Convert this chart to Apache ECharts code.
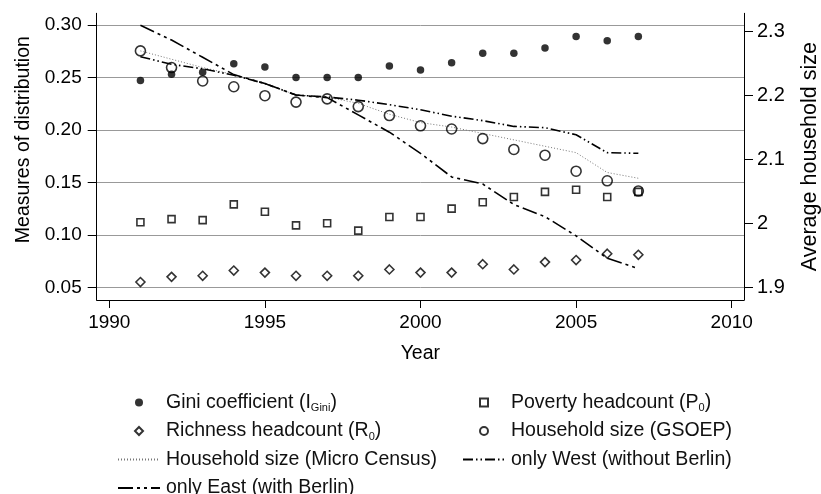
<!DOCTYPE html>
<html>
<head>
<meta charset="utf-8">
<script src="https://cdn.jsdelivr.net/npm/echarts@6/dist/echarts.min.js"></script>
<style>
  html, body { margin: 0; padding: 0; background: #fff; }
  #chart { width: 821px; height: 494px; }
</style>
</head>
<body>
<div id="chart"></div>
<script>
// Survey years
var years = [1991, 1992, 1993, 1994, 1995, 1996, 1997, 1998, 1999, 2000,
             2001, 2002, 2003, 2004, 2005, 2006, 2007];

// Measures of distribution (left axis)
var gini = [0.247, 0.253, 0.255, 0.263, 0.260, 0.250, 0.250, 0.250, 0.261, 0.257,
            0.264, 0.273, 0.273, 0.278, 0.289, 0.285, 0.289];
var poverty = [0.112, 0.115, 0.114, 0.129, 0.122, 0.109, 0.111, 0.104, 0.117, 0.117,
               0.125, 0.131, 0.136, 0.141, 0.143, 0.136, 0.141];
var richness = [0.055, 0.060, 0.061, 0.066, 0.064, 0.061, 0.061, 0.061, 0.067, 0.064,
                0.064, 0.072, 0.067, 0.074, 0.076, 0.082, 0.081];

// Average household size (right axis)
var hhGsoep = [2.270, 2.244, 2.223, 2.214, 2.200, 2.190, 2.195, 2.183, 2.169, 2.153,
               2.148, 2.133, 2.116, 2.107, 2.082, 2.067, 2.051];
var hhMicroCensus = [2.270, 2.257, 2.244, 2.233, 2.219, 2.201, 2.198, 2.188, 2.171, 2.158,
                     2.151, 2.141, 2.131, 2.121, 2.111, 2.080, 2.071];
var hhWest = [2.261, 2.249, 2.242, 2.232, 2.219, 2.201, 2.198, 2.193, 2.186, 2.178,
              2.168, 2.161, 2.152, 2.150, 2.139, 2.111, 2.110];
var hhEast = [2.310, 2.287, 2.260, 2.233, 2.219, 2.201, 2.197, 2.170, 2.143, 2.110,
              2.073, 2.062, 2.030, 2.011, 1.981, 1.946, 1.930];

// Tick values
var xTicks = [1990, 1995, 2000, 2005, 2010];
var leftTicks = [0.05, 0.10, 0.15, 0.20, 0.25, 0.30];
var rightTicks = [1.9, 2.0, 2.1, 2.2, 2.3];

function pairs(vals) {
  return years.map(function (y, i) { return [y, vals[i]]; });
}

var FONT = '"Liberation Sans", Arial, sans-serif';

var chart = echarts.init(document.getElementById('chart'), null, { renderer: 'canvas' });

var hollow = { color: 'rgba(0,0,0,0)', borderColor: '#000', borderWidth: 1.6 };
// line series carry no markers; keep their legend dot invisible
var noDot = { color: 'rgba(0,0,0,0)', borderColor: 'rgba(0,0,0,0)', borderWidth: 0 };

// square / diamond legend keys as paths so they keep their aspect ratio
var SQUARE_ICON = 'path://M0,0 L10,0 L10,10 L0,10 Z';
var DIAMOND_ICON = 'path://M5,0 L10,5 L5,10 L0,5 Z';

var legendText = {
  fontFamily: FONT, fontSize: 19.5, color: '#111', lineHeight: 22,
  padding: [0, 0, 0, 1],
  rich: {
    s: { fontFamily: FONT, fontSize: 11, color: '#111', lineHeight: 12, verticalAlign: 'bottom' }
  }
};
function legendFormatter(name) {
  return name.replace(/_(\w+)\)/, '{s|$1})');
}

var legendCommon = {
  orient: 'vertical', top: 386.5, height: 130, itemWidth: 42, itemHeight: 8, itemGap: 6.5,
  symbolKeepAspect: true, selectedMode: false, textStyle: legendText, formatter: legendFormatter
};

chart.setOption({
  animation: false,
  backgroundColor: '#fff',
  grid: { left: 96.7, right: 77, top: 13.3, bottom: 194, containLabel: false, outerBoundsMode: 'none' },
  xAxis: {
    type: 'value',
    min: 1989.595, max: 2010.395,
    name: 'Year', nameLocation: 'middle', nameGap: 44,
    nameTextStyle: { fontFamily: FONT, fontSize: 19.5, color: '#000' },
    axisLine: { show: true, onZero: false, lineStyle: { color: '#000', width: 1 } },
    axisTick: { show: true, length: 8, customValues: xTicks, lineStyle: { color: '#000' } },
    axisLabel: { customValues: xTicks, margin: 13, fontFamily: FONT, fontSize: 19, color: '#000',
                 formatter: function (v) { return String(v); } },
    splitLine: { show: false }
  },
  yAxis: [{
    type: 'value', position: 'left',
    min: 0.03790, max: 0.31115,
    name: 'Measures of distribution', nameLocation: 'middle', nameRotate: 90, nameGap: 63,
    nameTextStyle: { fontFamily: FONT, fontSize: 19.5, color: '#000', padding: [0, 0, 0, 34] },
    axisLine: { show: true, lineStyle: { color: '#000', width: 1 } },
    axisTick: { show: true, length: 9, customValues: leftTicks, lineStyle: { color: '#000' } },
    axisLabel: { customValues: leftTicks, margin: 15, fontFamily: FONT, fontSize: 19, color: '#000',
                 formatter: function (v) { return v.toFixed(2); } },
    splitLine: { show: true, lineStyle: { color: '#999', width: 1 } }
  }, {
    type: 'value', position: 'right',
    min: 1.88078, max: 2.32875,
    name: 'Average household size', nameLocation: 'middle', nameRotate: 90, nameGap: 55,
    nameTextStyle: { fontFamily: FONT, fontSize: 21.5, color: '#000' },
    axisLine: { show: true, lineStyle: { color: '#000', width: 1 } },
    axisTick: { show: true, length: 9, customValues: rightTicks, lineStyle: { color: '#000' } },
    axisLabel: { customValues: rightTicks, margin: 13, fontFamily: FONT, fontSize: 20, color: '#000',
                 formatter: function (v) { return String(Math.round(v * 10) / 10); } },
    splitLine: { show: false }
  }],
  legend: [Object.assign({}, legendCommon, {
    left: 112,
    data: ['Gini coefficient (I_Gini)',
           { name: 'Richness headcount (R_0)', icon: DIAMOND_ICON },
           'Household size (Micro Census)', 'only East (with Berlin)']
  }), Object.assign({}, legendCommon, {
    left: 457,
    data: [{ name: 'Poverty headcount (P_0)', icon: SQUARE_ICON },
           'Household size (GSOEP)', 'only West (without Berlin)']
  })],
  series: [{
    name: 'Household size (Micro Census)', type: 'line', yAxisIndex: 1,
    data: pairs(hhMicroCensus), symbol: 'none', itemStyle: noDot,
    lineStyle: { color: '#777', width: 1, type: [1, 2] }, z: 2
  }, {
    name: 'only West (without Berlin)', type: 'line', yAxisIndex: 1,
    data: pairs(hhWest), symbol: 'none', itemStyle: noDot,
    lineStyle: { color: '#000', width: 1.6, type: [10, 3, 1.5, 3, 1.5, 3] }, z: 2
  }, {
    name: 'only East (with Berlin)', type: 'line', yAxisIndex: 1,
    data: pairs(hhEast), symbol: 'none', itemStyle: noDot,
    lineStyle: { color: '#000', width: 1.6, type: [15, 4, 3, 4, 3, 4] }, z: 2
  }, {
    name: 'Gini coefficient (I_Gini)', type: 'scatter', yAxisIndex: 0,
    data: pairs(gini), symbol: 'circle', symbolSize: 7.5,
    itemStyle: { color: '#000' }, z: 3
  }, {
    name: 'Poverty headcount (P_0)', type: 'scatter', yAxisIndex: 0,
    data: pairs(poverty), symbol: 'rect', symbolSize: 7,
    itemStyle: hollow, z: 3
  }, {
    name: 'Richness headcount (R_0)', type: 'scatter', yAxisIndex: 0,
    data: pairs(richness), symbol: 'diamond', symbolSize: 9,
    itemStyle: hollow, z: 3
  }, {
    name: 'Household size (GSOEP)', type: 'scatter', yAxisIndex: 1,
    data: pairs(hhGsoep), symbol: 'circle', symbolSize: 10,
    itemStyle: hollow, z: 3
  }]
});
</script>
</body>
</html>
